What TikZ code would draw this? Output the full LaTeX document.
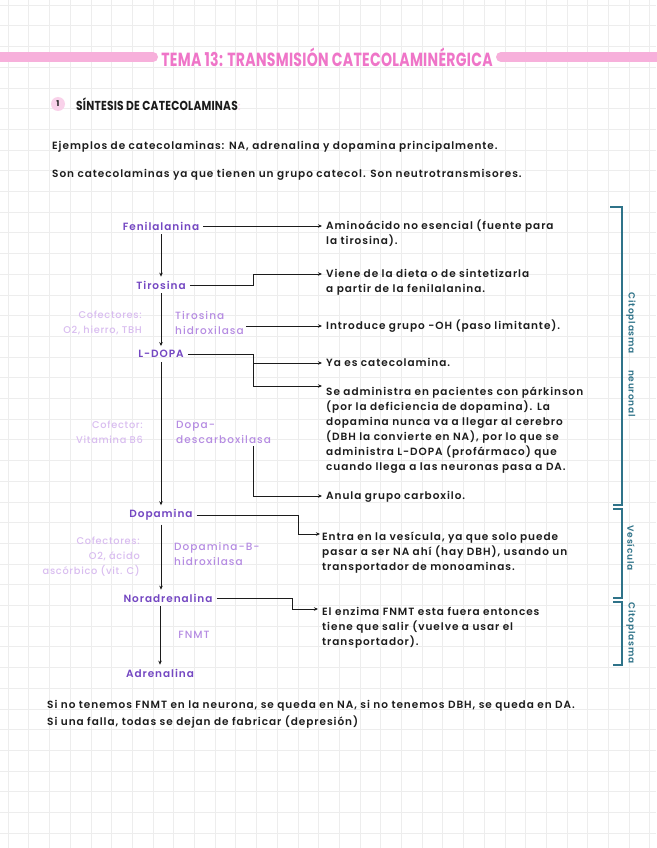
\documentclass[tikz,border=0pt]{standalone}
\usepackage{fontspec}
\setmainfont{Poppins}[UprightFont={* SemiBold}, BoldFont={* Bold}, LetterSpace=9]
\newfontfamily\titlefont{Poppins}[LetterSpace=2]
\newfontfamily\lightfont{Poppins}[UprightFont={* Medium}, LetterSpace=10]
\newfontfamily\coffont{Poppins}[UprightFont={* Medium}, LetterSpace=7]
\usetikzlibrary{calc,arrows.meta}
\definecolor{ink}{HTML}{1C1C1C}
\definecolor{chemc}{HTML}{7447C2}
\definecolor{enzc}{HTML}{B58BE2}
\definecolor{cofc}{HTML}{D9BDF0}
\definecolor{pinkbar}{HTML}{F7B0DB}
\definecolor{pinktxt}{HTML}{EF75C8}
\definecolor{pinkdot}{HTML}{F9D2EA}
\definecolor{tealc}{HTML}{2F7389}
\definecolor{gridc}{HTML}{EDEDED}
\newcommand\bodyfont{\fontsize{10.5}{15}\selectfont}
\begin{document}
\begin{tikzpicture}[x=1pt,y=-1pt,
  body/.style={inner sep=0pt, text=ink, font=\bodyfont},
  note/.style={body, anchor=north west, align=left},
  chem/.style={inner sep=4pt, text=chemc, font=\bodyfont},
  enz/.style={inner sep=0pt, anchor=north west, align=left, text=enzc, font=\lightfont\bodyfont},
  cof/.style={inner sep=0pt, anchor=north east, align=right, text=cofc, font=\coffont\fontsize{9.8}{15}\selectfont},
  conn/.style={draw=ink, line width=0.9pt},
  arr/.style={conn, -{Stealth[length=4pt,width=3.5pt]}},
  brk/.style={draw=tealc, line width=1.3pt},
  brklab/.style={inner sep=0pt, rotate=-90, text=tealc, font=\fontsize{9}{10}\selectfont}
]
\useasboundingbox (0,0) rectangle (656,848);
\fill[white] (0,0) rectangle (656,848);
% grid
\foreach \i in {0,...,32} {
  \draw[gridc, line width=0.5pt] (\i*20.7+8,0) -- (\i*20.7+8,848);
}
\foreach \j in {0,...,41} {
  \draw[gridc, line width=0.5pt] (0,\j*20.7+5) -- (656,\j*20.7+5);
}
% title
\draw[pinkbar, line width=10pt, line cap=round] (-10,57) -- (153,57);
\draw[pinkbar, line width=10pt, line cap=round] (501,57) -- (670,57);
\node[inner sep=0pt, text=pinktxt] (title) at (327,57)
  {\scalebox{0.74}[1]{\titlefont\fontsize{19}{20}\selectfont\bfseries TEMA 13: TRANSMISIÓN CATECOLAMINÉRGICA}};
% section
\node[circle, fill=pinkdot, inner sep=0pt, minimum size=14pt, font=\fontsize{8}{9}\selectfont\bfseries, text=ink] (num) at (58,104) {1};
\node[inner sep=0pt, anchor=west, text=ink] (sec) at (76,104)
  {\scalebox{0.82}[1]{\titlefont\fontsize{13}{15}\selectfont\bfseries SÍNTESIS DE CATECOLAMINAS}\textcolor{pinkdot}{\fontsize{11}{12}\selectfont :}};
% intro
\node[body, anchor=west] (intro1) at (52,147) {Ejemplos de catecolaminas: NA, adrenalina y dopamina principalmente.};
\node[body, anchor=west] (intro2) at (52,175) {Son catecolaminas ya que tienen un grupo catecol. Son neutrotransmisores.};
% chemicals
\node[chem] (fen) at (161,226) {Fenilalanina};
\node[chem] (tir) at (161,285) {Tirosina};
\node[chem] (ldopa) at (161,354) {L-DOPA};
\node[chem] (dopa) at (161,515) {Dopamina};
\node[chem] (nora) at (168,598) {Noradrenalina};
\node[chem] (adre) at (160,673) {Adrenalina};
% enzymes
\node[enz] (th) at (175,308.5) {\strut Tirosina\\hidroxilasa};
\node[enz] (ddc) at (176,417.5) {\strut Dopa-\\descarboxilasa};
\node[enz] (dbh) at (174,539.5) {\strut Dopamina-B-\\hidroxilasa};
\node[enz, anchor=center] (fnmt) at (194,635) {FNMT};
% cofactors
\node[cof] (c1) at (142,307.5) {\strut Cofectores:\\O2, hierro, TBH};
\node[cof] (c2) at (143,417.5) {\strut Cofector:\\Vitamina B6};
\node[cof] (c3) at (140,533.5) {\strut Cofectores:\\O2, ácido\\ascórbico (vit. C)};
% notes
\node[note] (n1) at (326,218.5) {\strut Aminoácido no esencial (fuente para\\la tirosina).};
\node[note] (n2) at (326,266.5) {\strut Viene de la dieta o de sintetizarla\\a partir de la fenilalanina.};
\node[note] (n3) at (326,318.5) {\strut Introduce grupo -OH (paso limitante).};
\node[note] (n4) at (326,355.5) {\strut Ya es catecolamina.};
\node[note] (n5) at (326,384.5) {\strut Se administra en pacientes con párkinson\\(por la deficiencia de dopamina). La\\dopamina nunca va a llegar al cerebro\\(DBH la convierte en NA), por lo que se\\administra L-DOPA (profármaco) que\\cuando llega a las neuronas pasa a DA.};
\node[note] (n6) at (326,488.5) {\strut Anula grupo carboxilo.};
\node[note] (n7) at (322,529.5) {\strut Entra en la vesícula, ya que solo puede\\pasar a ser NA ahí (hay DBH), usando un\\transportador de monoaminas.};
\node[note] (n8) at (322,604.5) {\strut El enzima FNMT esta fuera entonces\\tiene que salir (vuelve a usar el\\transportador).};
% note entry points
\coordinate (n1in) at ($(n1.north west)+(-4,7.5)$);
\coordinate (n2in) at ($(n2.north west)+(-4,7.5)$);
\coordinate (n3in) at ($(n3.north west)+(-4,7.5)$);
\coordinate (n4in) at ($(n4.north west)+(-4,7.5)$);
\coordinate (n5in) at ($(n5.north west)+(-4,1.5)$);
\coordinate (n6in) at ($(n6.north west)+(-4,7.5)$);
\coordinate (n7in) at ($(n7.north west)+(-2,4.5)$);
\coordinate (n8in) at ($(n8.north west)+(-4,4.5)$);
\coordinate (ka) at (253,274);
\coordinate (kb) at (253,386);
\coordinate (kc) at (298,534);
\coordinate (kd) at (292,609);
% main vertical arrows
\draw[arr] (fen) -- (tir);
\draw[arr] (tir) -- (ldopa);
\draw[arr] (ldopa) -- (dopa);
\draw[arr] (dopa) -- (dopa |- nora.north);
\draw[arr] (nora.south -| adre) -- (adre);
% side connectors
\draw[arr] (fen.east) -- (n1in);
\draw[arr] (tir.east) -| (ka) -- (n2in);
\draw[arr] ([xshift=2pt]th.east |- n3in) -- (n3in);
\draw[arr] (ldopa.east) -| (kb) -- (n5in);
\draw[arr] (kb |- n4in) -- (n4in);
\draw[arr] ([yshift=-3pt]ddc.south -| kb) |- (n6in);
\draw[arr] (dopa.east) -| (kc) -- (n7in);
\draw[arr] (nora.east) -| (kd) -- (n8in);
% bracket
\draw[brk] (610,207) -- (622,207) -- (622,505) -- (613,505);
\draw[brk] (613,509) -- (622,509) -- (622,598) -- (613,598);
\draw[brk] (613,602) -- (622,602) -- (622,665) -- (613,665);
\node[brklab] (b1) at (631,355) {Citoplasma\hspace{16pt}neuronal};
\node[brklab] (b2) at (631,548) {Vesícula};
\node[brklab] (b3) at (631,633) {Citoplasma};
% bottom
\node[body, anchor=west] (end1) at (47,706) {Si no tenemos FNMT en la neurona, se queda en NA, si no tenemos DBH, se queda en DA.};
\node[body, anchor=west] (end2) at (47,722) {Si una falla, todas se dejan de fabricar (depresión)};
\end{tikzpicture}
\end{document}
